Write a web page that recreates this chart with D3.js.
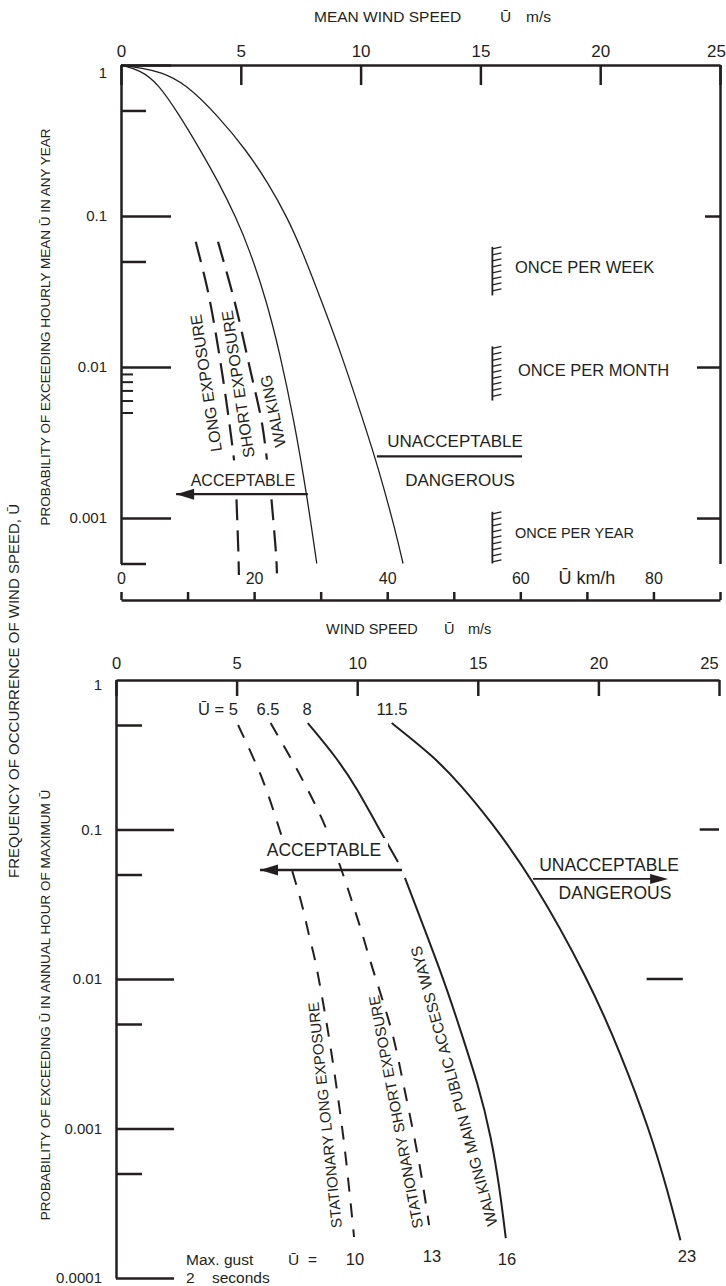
<!DOCTYPE html>
<html>
<head>
<meta charset="utf-8">
<script src="https://cdn.jsdelivr.net/npm/d3@7"></script>
<style>
body{margin:0;background:#fff;}
svg{display:block;background:#fff;}
</style>
</head>
<body>
<svg id="chart" width="726" height="1286"></svg>
<script>
// ---- data ----
// top chart: mean wind speed (m/s) against probability in any year
const topTicksMs = [0, 5, 10, 15, 20, 25];
const topMajorP = [1, 0.1, 0.01, 0.001];
const topMajorLabels = ["1", "0.1", "0.01", "0.001"];
const topMinorP = [0.5, 0.05, 0.0005];
const topSmallP = [0.009, 0.008, 0.007, 0.006, 0.005];
const topRightP = [0.1, 0.01, 0.001];
const kmhTicks = [0, 10, 20, 30, 40, 50, 60, 70, 80, 90];
const kmhLabels = ["0", "", "20", "", "40", "", "60", "", "80", ""];

// [U m/s, probability]
const curveInner = [[0,1],[0.79,0.927],[1.54,0.76],[2.46,0.4595],[3.31,0.2736],[4.09,0.1654],[4.79,0.0985],[5.37,0.0595],[6.06,0.0278],[6.6,0.01296],[7.22,0.00446],[7.77,0.001377],[8.17,0.0005]];
const curveOuter = [[0,1],[0.92,0.951],[1.63,0.899],[2.67,0.76],[4.09,0.4524],[5.22,0.2736],[6.14,0.1654],[6.93,0.0985],[7.55,0.0595],[8.35,0.0278],[9.14,0.01296],[10.1,0.00446],[10.73,0.00218],[11.48,0.000796],[11.77,0.0005]];
const longUpper = [[3.12,0.0675],[3.63,0.0316],[4.09,0.0124],[4.52,0.00428],[4.72,0.00241]];
const longLower = [[4.82,0.00133],[4.9,0.00058],[4.92,0.00042]];
const shortUpper = [[4.05,0.0675],[4.76,0.0264],[5.38,0.0098],[5.88,0.00428],[6.09,0.00244]];
const shortLower = [[6.28,0.00133],[6.47,0.00058],[6.51,0.00043]];
const topAcceptArrow = [[7.8,0.00144],[2.3,0.00144]];
const topDangerLine = [[10.68,0.00256],[16.74,0.00256]];
// hatched marks at U = 15.5 m/s: [U, p from, p to]
const onceMarks = [[15.5,0.0625,0.0298],[15.5,0.0137,0.006],[15.5,0.0011,0.0005]];
const onceLabels = ["ONCE PER WEEK", "ONCE PER MONTH", "ONCE PER YEAR"];

// bottom chart: wind speed (m/s) against probability in annual hour of maximum
const botTicksMs = [0, 5, 10, 15, 20, 25];
const botMajorP = [1, 0.1, 0.01, 0.001, 0.0001];
const botMajorLabels = ["1", "0.1", "0.01", "0.001", "0.0001"];
const botMinorP = [0.5, 0.05, 0.005, 0.0005];
// right-hand marks: [p, U from, U to]
const botRightMarks = [[0.1, 24.2, 25], [0.01, 22.0, 23.5]];
const startLabels = ["Ū = 5", "6.5", "8", "11.5"];
const gustLabels = ["10", "13", "16", "23"];

const curve5 = [[5.06,0.5],[6.05,0.221],[6.8,0.0977],[7.38,0.0481],[7.71,0.0313],[8.0,0.0197],[8.25,0.0134],[8.71,0.00532],[9.16,0.00181],[9.49,0.000718],[9.87,0.000188]];
const curve65 = [[6.41,0.515],[7.63,0.231],[8.67,0.1055],[9.45,0.0481],[9.83,0.0313],[10.16,0.0213],[10.53,0.0134],[11.44,0.00442],[11.94,0.0019],[12.6,0.000552],[12.98,0.000226]];
const curve8Upper = [[7.95,0.515],[9.16,0.3008],[10.03,0.1837],[10.7,0.1157],[11.69,0.0606]];
const curve8Lower = [[11.98,0.0474],[13.6,0.00985],[14.14,0.00532],[15.05,0.0019],[15.55,0.000877],[15.9,0.000406],[16.16,0.000185]];
const curve115 = [[11.43,0.515],[13.2,0.305],[14.3,0.198],[15.5,0.1157],[17.25,0.0474],[19.6,0.00985],[20.95,0.0031],[22.12,0.000977],[22.86,0.000388],[23.4,0.000179]];
const botAcceptArrow = [[11.86,0.0536],[5.97,0.0536]];
const botDangerArrow = [[17.29,0.0467],[22.89,0.0467]];

// ---- drawing ----
const ink = "#231f20";
const font = "'Liberation Sans', Arial, Helvetica, sans-serif";
const svg = d3.select("#chart");

const xTop = d3.scaleLinear().domain([0, 25]).range([121, 720]);
const yTop = d3.scaleLog().domain([1, 0.0005]).range([65, 563.5]);
const xKmh = d3.scaleLinear().domain([0, 90]).range([121, 720]);
const xBot = d3.scaleLinear().domain([0, 25]).range([116, 719]);
const yBot = d3.scaleLog().domain([1, 0.0001]).range([680, 1278]);

function styleAxis(g, w, size) {
  g.attr("font-family", font);
  g.select(".domain").attr("stroke", ink).attr("stroke-width", w);
  g.selectAll(".tick line").attr("stroke", ink).attr("stroke-width", w);
  g.selectAll(".tick text").attr("fill", ink).attr("font-size", size);
}

function txt(x, y, s, size, anchor, rot) {
  const t = svg.append("text").attr("x", x).attr("y", y).attr("font-family", font)
    .attr("font-size", size).attr("fill", ink).attr("text-anchor", anchor || "start").text(s);
  if (rot !== undefined) {
    t.attr("x", 0).attr("y", 0).attr("dy", "0.35em")
      .attr("transform", `translate(${x},${y}) rotate(${rot})`);
  }
  return t;
}

function arrowHead(x, y, dir, len, half) {
  svg.append("path")
    .attr("d", `M${x},${y}L${x - dir * len},${y - half}L${x - dir * len},${y + half}Z`)
    .attr("fill", ink);
}

// top chart axes
svg.append("g").attr("transform", `translate(0,${yTop(1)})`)
  .call(d3.axisTop(xTop).tickValues(topTicksMs).tickSize(-20).tickSizeOuter(0).tickPadding(8))
  .call(g => {
    styleAxis(g, 2.5, 17);
    g.selectAll(".tick text").filter(d => d === 25).attr("dx", -4);
  });

svg.append("g").attr("transform", `translate(${xTop(0)},0)`)
  .call(d3.axisLeft(yTop).tickValues(topMajorP).tickSize(-50).tickSizeOuter(0).tickPadding(14)
    .tickFormat((d, i) => topMajorLabels[i]))
  .call(g => {
    styleAxis(g, 2.5, 15);
    g.selectAll(".tick text").filter(d => d === 1).attr("dy", "0.8em");
  });
svg.append("g").attr("transform", `translate(${xTop(0)},0)`)
  .call(d3.axisLeft(yTop).tickValues(topMinorP).tickSize(-25).tickFormat(""))
  .call(g => { styleAxis(g, 2.5, 15); g.select(".domain").remove(); });
svg.append("g").attr("transform", `translate(${xTop(0)},0)`)
  .call(d3.axisLeft(yTop).tickValues(topSmallP).tickSize(-12).tickFormat(""))
  .call(g => { styleAxis(g, 2, 15); g.select(".domain").remove(); });

svg.append("g").attr("transform", `translate(${xTop(25)},0)`)
  .call(d3.axisRight(yTop).tickValues(topRightP).tickSize(-23).tickSizeOuter(0).tickFormat(""))
  .call(g => {
    styleAxis(g, 2.5, 15);
    g.selectAll(".tick line").filter(d => d === 0.1).attr("x2", -15);
  });

// km/h axis under the top chart
svg.append("g").attr("transform", "translate(0,600)")
  .call(d3.axisTop(xKmh).tickValues(kmhTicks).tickSize(8).tickSizeOuter(0).tickPadding(8)
    .tickFormat((d, i) => kmhLabels[i]))
  .call(g => styleAxis(g, 2.5, 16));
txt(xKmh(70), 584, "Ū km/h", 18, "middle");

// titles
txt(314, 22, "MEAN WIND SPEED", 15.5);
txt(500, 22, "Ū", 15.5);
txt(526, 22, "m/s", 15.5);
txt(326, 634, "WIND SPEED", 14.5);
txt(444, 634, "Ū", 14.5);
txt(468, 634, "m/s", 14.5);

txt(14, 691, "FREQUENCY OF OCCURRENCE OF WIND SPEED, Ū", 15, "middle", -90);
txt(45, 327, "PROBABILITY OF EXCEEDING HOURLY MEAN Ū IN ANY YEAR", 13.5, "middle", -90);
txt(45, 1005, "PROBABILITY OF EXCEEDING Ū IN ANNUAL HOUR OF MAXIMUM Ū", 13.5, "middle", -90);

// top chart curves
const lineTop = d3.line().x(d => xTop(d[0])).y(d => yTop(d[1])).curve(d3.curveBasis);
const dashTop = d3.line().x(d => xTop(d[0])).y(d => yTop(d[1])).curve(d3.curveCatmullRom.alpha(0.5));
[curveInner, curveOuter].forEach(c => {
  svg.append("path").attr("d", lineTop(c)).attr("fill", "none").attr("stroke", ink).attr("stroke-width", 1.3);
});
[longUpper, longLower, shortUpper, shortLower].forEach(c => {
  svg.append("path").attr("d", dashTop(c)).attr("fill", "none").attr("stroke", ink)
    .attr("stroke-width", 2.2).attr("stroke-dasharray", "21,10");
});

// acceptable arrow / dangerous line
svg.append("path").attr("d", dashTop(topAcceptArrow)).attr("stroke", ink).attr("stroke-width", 2.2);
arrowHead(xTop(topAcceptArrow[1][0]), yTop(topAcceptArrow[1][1]), -1, 18, 5.5);
svg.append("path").attr("d", dashTop(topDangerLine)).attr("stroke", ink).attr("stroke-width", 2.2);

// hatched frequency marks
onceMarks.forEach(m => {
  const x = xTop(m[0]), y1 = yTop(m[1]), y2 = yTop(m[2]);
  svg.append("line").attr("x1", x).attr("x2", x).attr("y1", y1).attr("y2", y2)
    .attr("stroke", ink).attr("stroke-width", 1.8);
  const n = Math.round((y2 - y1) / 6);
  d3.range(n).forEach(k => {
    const y = y1 + 2 + k * 6;
    svg.append("line").attr("x1", x).attr("x2", x + 9).attr("y1", y).attr("y2", y - 2)
      .attr("stroke", ink).attr("stroke-width", 1.3);
  });
});
txt(515, 273, onceLabels[0], 16.5);
txt(518, 376, onceLabels[1], 16.5);
txt(515, 538, onceLabels[2], 14.5);

// top chart labels
txt(206, 383, "LONG EXPOSURE", 16, "middle", -98.7);
txt(238, 384, "SHORT EXPOSURE", 16, "middle", -98.6);
txt(273, 411, "WALKING", 16, "middle", -102);
txt(243, 486, "ACCEPTABLE", 16, "middle");
txt(455, 447, "UNACCEPTABLE", 17, "middle");
txt(460, 486, "DANGEROUS", 17, "middle");

// bottom chart axes
svg.append("g").attr("transform", `translate(0,${yBot(1)})`)
  .call(d3.axisTop(xBot).tickValues(botTicksMs).tickSize(-16).tickSizeOuter(0).tickPadding(11))
  .call(g => {
    styleAxis(g, 2.5, 16.5);
    g.selectAll(".tick text").filter(d => d === 25).attr("dx", -10);
  });

svg.append("g").attr("transform", `translate(${xBot(0)},0)`)
  .call(d3.axisLeft(yBot).tickValues(botMajorP).tickSize(-58).tickSizeOuter(0).tickPadding(14)
    .tickFormat((d, i) => botMajorLabels[i]))
  .call(g => {
    styleAxis(g, 2.5, 15);
    g.selectAll(".tick").filter(d => d === 1).select("line").remove();
    g.selectAll(".tick text").filter(d => d === 1).attr("dy", "0.6em");
  });
svg.append("g").attr("transform", `translate(${xBot(0)},0)`)
  .call(d3.axisLeft(yBot).tickValues(botMinorP).tickSize(-26).tickFormat(""))
  .call(g => { styleAxis(g, 2.5, 15); g.select(".domain").remove(); });

svg.selectAll(".rmark").data(botRightMarks).join("line").attr("class", "rmark")
  .attr("x1", d => xBot(d[1])).attr("x2", d => xBot(d[2]))
  .attr("y1", d => yBot(d[0])).attr("y2", d => yBot(d[0]))
  .attr("stroke", ink).attr("stroke-width", 2.5);

// bottom chart curves
const lineBot = d3.line().x(d => xBot(d[0])).y(d => yBot(d[1])).curve(d3.curveBasis);
const dashBot = d3.line().x(d => xBot(d[0])).y(d => yBot(d[1])).curve(d3.curveCatmullRom.alpha(0.5));
[curve5, curve65].forEach(c => {
  svg.append("path").attr("d", dashBot(c)).attr("fill", "none").attr("stroke", ink)
    .attr("stroke-width", 2).attr("stroke-dasharray", "14,12");
});
[curve8Upper, curve8Lower, curve115].forEach(c => {
  svg.append("path").attr("d", lineBot(c)).attr("fill", "none").attr("stroke", ink).attr("stroke-width", 2);
});

// keep the dashes clear of the ACCEPTABLE label
svg.append("rect").attr("x", 262).attr("y", 838).attr("width", 126).attr("height", 23).attr("fill", "#fff");

svg.append("path").attr("d", dashBot(botAcceptArrow)).attr("stroke", ink).attr("stroke-width", 2.4);
arrowHead(xBot(botAcceptArrow[1][0]), yBot(botAcceptArrow[1][1]), -1, 18, 5.5);
svg.append("path").attr("d", dashBot([botDangerArrow[0], [botDangerArrow[1][0] - 0.6, botDangerArrow[1][1]]]))
  .attr("stroke", ink).attr("stroke-width", 1.8);
arrowHead(xBot(botDangerArrow[1][0]), yBot(botDangerArrow[1][1]), 1, 18, 5);

// bottom chart labels
txt(198, 715, startLabels[0], 16.5);
txt(268, 715, startLabels[1], 16.5, "middle");
txt(307, 715, startLabels[2], 16.5, "middle");
txt(392, 715, startLabels[3], 16.5, "middle");

txt(324, 856, "ACCEPTABLE", 17.5, "middle");
txt(609, 871, "UNACCEPTABLE", 17.5, "middle");
txt(615, 899, "DANGEROUS", 17.5, "middle");

txt(325, 1115, "STATIONARY LONG EXPOSURE", 15, "middle", -96);
txt(396, 1112, "STATIONARY SHORT EXPOSURE", 15, "middle", -100.8);
txt(454, 1086, "WALKING MAIN PUBLIC ACCESS WAYS", 15.5, "middle", -105.4);

txt(186, 1265, "Max. gust", 15.5);
txt(186, 1283, "2", 15.5);
txt(212, 1283, "seconds", 15.5);
txt(288, 1265, "Ū", 15.5);
txt(308, 1265, "=", 15.5);
txt(355, 1265, gustLabels[0], 16.5, "middle");
txt(432, 1262, gustLabels[1], 16.5, "middle");
txt(507, 1265, gustLabels[2], 16.5, "middle");
txt(687, 1262, gustLabels[3], 16.5, "middle");
</script>
</body>
</html>
